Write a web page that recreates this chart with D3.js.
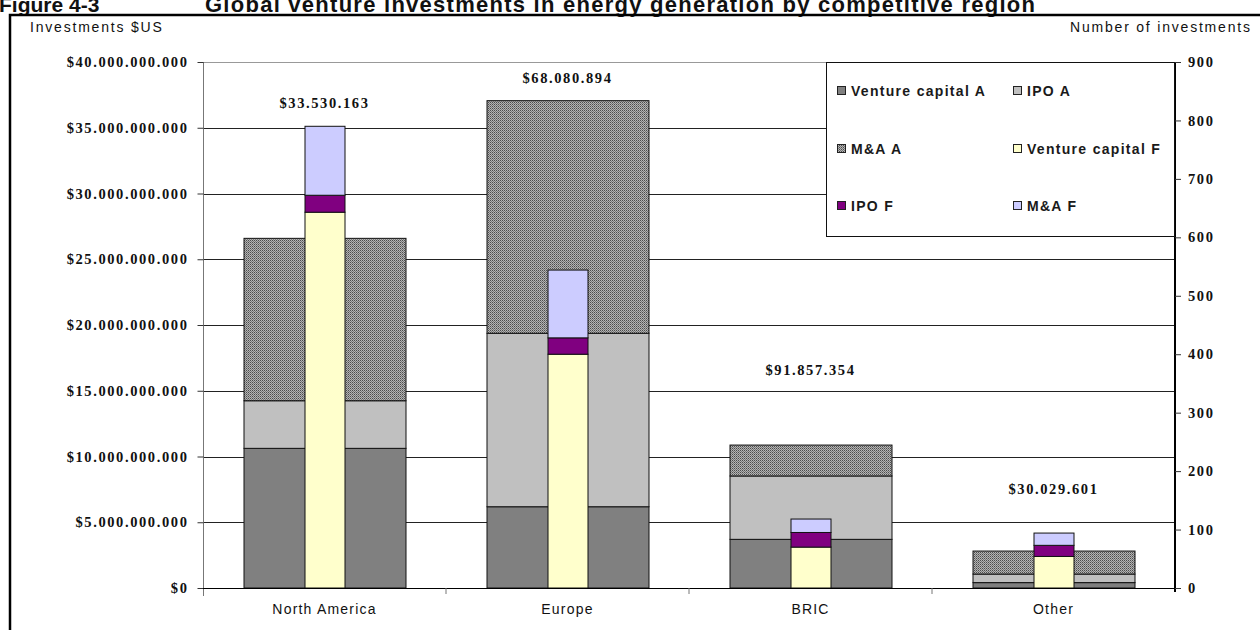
<!DOCTYPE html>
<html>
<head>
<meta charset="utf-8">
<script src="https://cdn.jsdelivr.net/npm/d3@7"></script>
<style>
  body { margin: 0; background: #fff; }
  svg { display: block; }
  .num { font-family: "Liberation Serif", "Times New Roman", serif; font-weight: bold; font-size: 14.5px; letter-spacing: 1.6px; fill: #111; }
  .sans { font-family: "Liberation Sans", Arial, sans-serif; fill: #111; }
  .legend text { font-family: "Liberation Sans", Arial, sans-serif; font-weight: bold; font-size: 14px; letter-spacing: 1.3px; fill: #1a1a1a; }
</style>
</head>
<body>
<svg id="chart" width="1260" height="630"></svg>
<script>
const regions = ["North America", "Europe", "BRIC", "Other"];

// investments, billions of $US (left axis)
const vcAmount = [10.62, 6.18, 3.70, 0.41];
const ipoAmount = [3.62, 13.19, 4.82, 0.65];
const maAmount = [12.35, 17.69, 2.35, 1.75];

// number of investments (right axis)
const vcCount = [643, 400, 70, 54];
const ipoCount = [29, 28, 25, 19];
const maCount = [118, 116, 23, 21];

// average deal size labels and the level (billions) they sit at
const avgLabels = ["$33.530.163", "$68.080.894", "$91.857.354", "$30.029.601"];
const avgLevel = [36.9, 38.8, 16.6, 7.5];

const moneyTicks = [0, 5, 10, 15, 20, 25, 30, 35, 40];
const moneyTickLabels = ["$0", "$5.000.000.000", "$10.000.000.000", "$15.000.000.000",
  "$20.000.000.000", "$25.000.000.000", "$30.000.000.000", "$35.000.000.000", "$40.000.000.000"];
const countTicks = [0, 100, 200, 300, 400, 500, 600, 700, 800, 900];

const seriesNames = ["Venture capital A", "IPO A", "M&A A", "Venture capital F", "IPO F", "M&A F"];
const seriesFill = ["#808080", "#c0c0c0", "url(#dots)", "#ffffcc", "#800080", "#ccccff"];

const svg = d3.select("#chart");
const plotLeft = 203, plotRight = 1175, plotTop = 62, plotBottom = 588;

// hatch for M&A A
const pat = svg.append("defs").append("pattern")
  .attr("id", "dots").attr("width", 2).attr("height", 2)
  .attr("patternUnits", "userSpaceOnUse");
pat.append("rect").attr("width", 2).attr("height", 2).attr("fill", "#b4b4b4");
pat.append("rect").attr("width", 1).attr("height", 1).attr("fill", "#4c4c4c");
pat.append("rect").attr("x", 1).attr("y", 1).attr("width", 1).attr("height", 1).attr("fill", "#777");

// title (its top is cut by the page edge, as in the source figure) and frame
svg.append("text").attr("class", "sans").attr("x", -1).attr("y", 12)
  .attr("font-size", 21).attr("font-weight", "bold").text("Figure 4-3");
svg.append("text").attr("class", "sans").attr("x", 205).attr("y", 12)
  .attr("font-size", 22).attr("font-weight", "bold")
  .attr("textLength", 830).attr("lengthAdjust", "spacing")
  .text("Global venture investments in energy generation by competitive region");
svg.append("path").attr("d", "M10,632V15H1262").attr("fill", "none")
  .attr("stroke", "#000").attr("stroke-width", 2.5);

svg.append("text").attr("class", "sans").attr("x", 30).attr("y", 32)
  .attr("font-size", 14).attr("letter-spacing", 1.8).text("Investments $US");
svg.append("text").attr("class", "sans").attr("x", 1070).attr("y", 32)
  .attr("font-size", 14).attr("letter-spacing", 1.8).text("Number of investments");

const x = d3.scaleBand().domain(regions).range([plotLeft, plotRight])
  .paddingInner(1 / 3).paddingOuter(1 / 6);
const y = d3.scaleLinear().domain([0, 40]).range([plotBottom, plotTop]);
const y2 = d3.scaleLinear().domain([0, 900]).range([plotBottom, plotTop]);
const narrow = 40;

// gridlines
svg.append("g").selectAll("line").data(moneyTicks.slice(1)).join("line")
  .attr("x1", plotLeft).attr("x2", plotRight)
  .attr("y1", d => Math.round(y(d)) + 0.5).attr("y2", d => Math.round(y(d)) + 0.5)
  .attr("stroke", d => d === 40 ? "#999" : "#222").attr("stroke-width", 1);

// stacked amounts (wide bars)
const amountRows = regions.map((r, i) => ({ region: r, a0: vcAmount[i], a1: ipoAmount[i], a2: maAmount[i] }));
const amountStack = d3.stack().keys(["a0", "a1", "a2"])(amountRows);
svg.append("g").selectAll("g").data(amountStack).join("g")
  .attr("fill", (d, i) => seriesFill[i])
  .selectAll("rect").data(d => d).join("rect")
  .attr("x", d => x(d.data.region) + 0.5)
  .attr("width", x.bandwidth())
  .attr("y", d => y(d[1]))
  .attr("height", d => y(d[0]) - y(d[1]))
  .attr("stroke", "#111").attr("stroke-width", 1);

// stacked counts (narrow bars)
const countRows = regions.map((r, i) => ({ region: r, c0: vcCount[i], c1: ipoCount[i], c2: maCount[i] }));
const countStack = d3.stack().keys(["c0", "c1", "c2"])(countRows);
svg.append("g").selectAll("g").data(countStack).join("g")
  .attr("fill", (d, i) => seriesFill[i + 3])
  .selectAll("rect").data(d => d).join("rect")
  .attr("x", d => x(d.data.region) + x.bandwidth() / 2 - narrow / 2 + 0.5)
  .attr("width", narrow)
  .attr("y", d => y2(d[1]))
  .attr("height", d => y2(d[0]) - y2(d[1]))
  .attr("stroke", "#111").attr("stroke-width", 1);

// average deal size labels
svg.append("g").selectAll("text").data(regions).join("text")
  .attr("class", "num")
  .attr("x", d => x(d) + x.bandwidth() / 2)
  .attr("y", (d, i) => y(avgLevel[i]) + 5)
  .attr("text-anchor", "middle")
  .text((d, i) => avgLabels[i]);

// left axis
const leftAxis = svg.append("g").attr("transform", `translate(${plotLeft + 0.5},0)`)
  .call(d3.axisLeft(y).tickValues(moneyTicks).tickSize(6).tickPadding(9)
    .tickFormat((d, i) => moneyTickLabels[i]));
leftAxis.attr("font-size", null).attr("font-family", null);
leftAxis.select(".domain").attr("stroke", "#777").attr("d", `M0,${plotTop}V${plotBottom + 8}`);
leftAxis.selectAll(".tick line").attr("stroke", "#333");
leftAxis.selectAll("text").attr("class", "num");

// right axis
const rightAxis = svg.append("g").attr("transform", `translate(${plotRight},0)`)
  .call(d3.axisRight(y2).tickValues(countTicks).tickSize(6).tickPadding(7));
rightAxis.attr("font-size", null).attr("font-family", null);
rightAxis.select(".domain").attr("stroke", "#000").attr("stroke-width", 2).attr("d", `M0,${plotTop}V${plotBottom + 4}`);
rightAxis.selectAll(".tick line").attr("stroke", "#333");
rightAxis.selectAll("text").attr("class", "num");

// category axis
const bottomAxis = svg.append("g").attr("transform", `translate(0,${plotBottom + 0.5})`)
  .call(d3.axisBottom(x).tickSize(0).tickPadding(16));
bottomAxis.attr("font-size", null).attr("font-family", null);
bottomAxis.select(".domain").attr("stroke", "#000").attr("d", `M${plotLeft},0H${plotRight}`);
bottomAxis.selectAll("text").attr("class", "sans").attr("font-size", 14).attr("letter-spacing", 1.2);
svg.append("g").selectAll("line").data(regions.slice(1)).join("line")
  .attr("x1", d => x(d) - x.step() * x.paddingInner() / 2)
  .attr("x2", d => x(d) - x.step() * x.paddingInner() / 2)
  .attr("y1", plotBottom).attr("y2", plotBottom + 6).attr("stroke", "#777");

// legend
const legend = svg.append("g").attr("class", "legend");
legend.append("rect").attr("x", 826.5).attr("y", plotTop + 0.5).attr("width", plotRight - 827).attr("height", 174)
  .attr("fill", "#fff").attr("stroke", "#111");
const items = legend.selectAll("g").data(seriesNames).join("g")
  .attr("transform", (d, i) => `translate(${i % 2 ? 1013 : 837},${[91, 149, 206][Math.floor(i / 2)]})`);
items.append("rect").attr("x", 0.5).attr("y", -4.5).attr("width", 8).attr("height", 8)
  .attr("fill", (d, i) => seriesFill[i]).attr("stroke", "#222");
items.append("text").attr("x", 14).attr("y", 5).text(d => d);
</script>
</body>
</html>
